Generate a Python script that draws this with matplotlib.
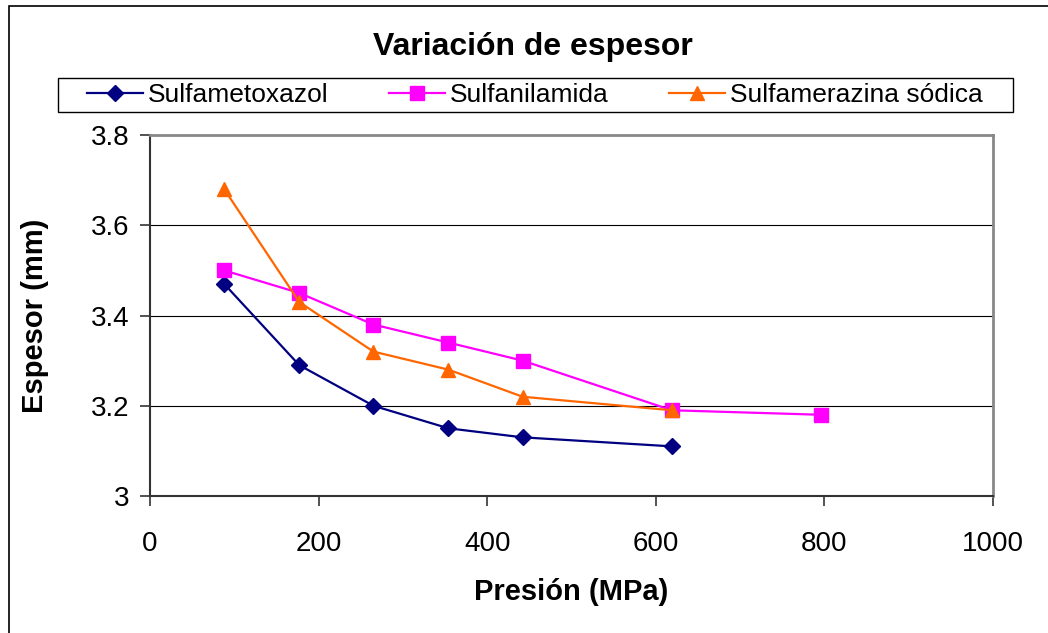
import matplotlib
matplotlib.use("Agg")
import matplotlib.pyplot as plt
from matplotlib.patches import Rectangle
from matplotlib.ticker import FuncFormatter

plt.rcParams['font.family'] = ['Liberation Sans', 'DejaVu Sans']

# presión aplicada (MPa) y espesor medido (mm)
presion = [88, 177, 265, 354, 442, 619, 796]
sulfametoxazol = [3.47, 3.29, 3.20, 3.15, 3.13, 3.11]
sulfanilamida = [3.50, 3.45, 3.38, 3.34, 3.30, 3.19, 3.18]
sulfamerazina = [3.68, 3.43, 3.32, 3.28, 3.22, 3.19]

fig = plt.figure(figsize=(10.48, 6.33), dpi=100)
ax = fig.add_axes([150/1048, 1 - 496/633, (993 - 150)/1048, (496 - 135)/633])

ax.plot(presion[:6], sulfametoxazol, color='#000080', lw=1.6, marker='D',
        ms=8, label='Sulfametoxazol')
ax.plot(presion, sulfanilamida, color='#FF00FF', lw=1.6, marker='s',
        ms=10, label='Sulfanilamida')
ax.plot(presion[:6], sulfamerazina, color='#FF6600', lw=1.6, marker='^',
        ms=10, label='Sulfamerazina sódica')

ax.set_xlim(0, 1000)
ax.set_ylim(3.0, 3.8)
ax.set_xticks([0, 200, 400, 600, 800, 1000])
ax.set_yticks([3.0, 3.2, 3.4, 3.6, 3.8])
ax.yaxis.set_major_formatter(FuncFormatter(lambda v, p: f"{v:g}"))
ax.tick_params(direction='out', length=7, width=1.2, labelsize=20,
               color='#333333')
ax.tick_params(axis='x', pad=18)
ax.tick_params(axis='y', pad=8)
ax.grid(axis='y', color='black', lw=0.8)
ax.set_axisbelow(True)

for s in ['top', 'right']:
    ax.spines[s].set_color('#888888')
    ax.spines[s].set_linewidth(2)
for s in ['left', 'bottom']:
    ax.spines[s].set_color('#333333')
    ax.spines[s].set_linewidth(1.5)

ax.set_xlabel('Presión (MPa)', fontsize=21, fontweight='bold', labelpad=15)
ax.set_ylabel('Espesor (mm)', fontsize=21, fontweight='bold', labelpad=30)

fig.text(533/1048, 1 - 47/633, 'Variación de espesor', fontsize=23,
         fontweight='bold', ha='center', va='center')

leg = fig.legend(loc='center', bbox_to_anchor=(535/1048, 1 - 95/633), ncol=3,
                 fontsize=19, frameon=False, handlelength=2.1,
                 handletextpad=0.2, columnspacing=2.3, borderpad=0.25,
                 borderaxespad=0)

# recuadro de la leyenda
fig.patches.append(Rectangle((58/1048, 1 - 112/633), (1013 - 58)/1048, 34/633,
                             transform=fig.transFigure, fill=False,
                             edgecolor='black', lw=1.0))

# marco del área del gráfico
fig.patches.append(Rectangle((9/1048, -0.1), 1.2, 1.1 - 6/633,
                             transform=fig.transFigure, fill=False,
                             edgecolor='black', lw=1.2))

fig.savefig('out.png', dpi=100)
